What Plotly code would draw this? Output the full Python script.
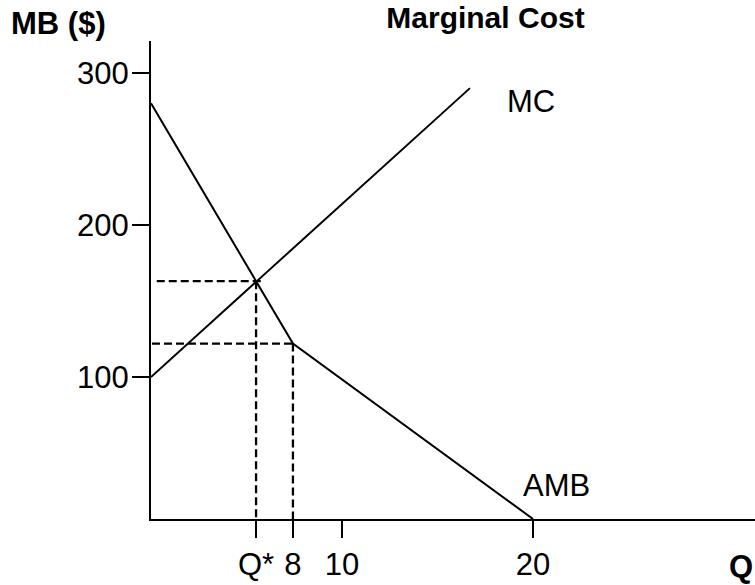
import plotly.graph_objects as go

# Data
mc_q = [0, 16.7]
mc_mb = [100, 290]
amb_q = [0, 7.43, 20]
amb_mb = [280, 122, 6.6]
q_star = 5.5
mb_star = 163
q_kink = 7.43
mb_kink = 122
x_tickvals = [5.5, 7.43, 10, 20]
x_ticktext = ["Q*", "8", "10", "20"]
y_tickvals = [100, 200, 300]
y_ticktext = ["100", "200", "300"]

X_RANGE = [0, 31.62]
Y_RANGE = [6.6, 321]
FONT = "Arial, Liberation Sans, sans-serif"
FS = 31

fig = go.Figure()
line_style = dict(color="black", width=2)
dash_style = dict(color="black", width=2.3, dash="8px,4px")

fig.add_trace(go.Scatter(x=mc_q, y=mc_mb, mode="lines", line=line_style, hoverinfo="skip"))
fig.add_trace(go.Scatter(x=amb_q, y=amb_mb, mode="lines", line=line_style, hoverinfo="skip"))
# guide lines
fig.add_trace(go.Scatter(x=[0.3, q_star + 0.3], y=[mb_star, mb_star], mode="lines", line=dash_style, hoverinfo="skip"))
fig.add_trace(go.Scatter(x=[q_star, q_star], y=[mb_star, Y_RANGE[0]], mode="lines", line=dash_style, hoverinfo="skip"))
fig.add_trace(go.Scatter(x=[0.05, q_kink + 0.05], y=[mb_kink, mb_kink], mode="lines", line=dash_style, hoverinfo="skip"))
fig.add_trace(go.Scatter(x=[q_kink, q_kink], y=[mb_kink, Y_RANGE[0]], mode="lines", line=dash_style, hoverinfo="skip"))

fig.update_layout(
    width=755, height=585,
    margin=dict(l=151, r=0, t=41, b=66),
    paper_bgcolor="white", plot_bgcolor="white",
    showlegend=False,
    font=dict(family=FONT, size=FS, color="black"),
    title=dict(text="<b>Marginal Cost</b>", x=0.643, xanchor="center",
               y=0.97, yanchor="middle", font=dict(size=30, family=FONT)),
    xaxis=dict(range=X_RANGE, showgrid=False, zeroline=False, showline=True,
               linecolor="black", linewidth=2, ticks="outside", ticklen=17,
               tickwidth=2, tickcolor="black", tickvals=x_tickvals,
               ticktext=x_ticktext, tickfont=dict(size=FS), fixedrange=True),
    yaxis=dict(range=Y_RANGE, showgrid=False, zeroline=False, showline=True,
               linecolor="black", linewidth=2, ticks="outside", ticklen=17,
               tickwidth=2, tickcolor="black", tickvals=y_tickvals,
               ticktext=y_ticktext, tickfont=dict(size=FS), fixedrange=True,
               ticklabelstandoff=-3),
    annotations=[
        dict(text="<b>MB ($)</b>", xref="paper", yref="paper", x=-151/604 + 9/604,
             xanchor="left", y=1 + (41 - 24) / 478, yanchor="middle", showarrow=False,
             font=dict(size=FS)),
        dict(text="<b>Q</b>", xref="paper", yref="paper", x=1, xanchor="right",
             y=-(566 - 519) / 478, yanchor="middle", showarrow=False, font=dict(size=FS)),
        dict(text="MC", xref="x", yref="y", x=(505 - 151) / 19.1, xanchor="left",
             y=300 - (102 - 73) / 1.52, yanchor="middle", showarrow=False, font=dict(size=FS)),
        dict(text="AMB", xref="x", yref="y", x=(521 - 151) / 19.1, xanchor="left",
             y=300 - (485 - 73) / 1.52, yanchor="middle", showarrow=False, font=dict(size=FS)),
    ],
)

fig.write_html("out.html", config={"displayModeBar": False},
               post_script="document.body.style.margin='0';document.body.style.overflow='hidden';")
